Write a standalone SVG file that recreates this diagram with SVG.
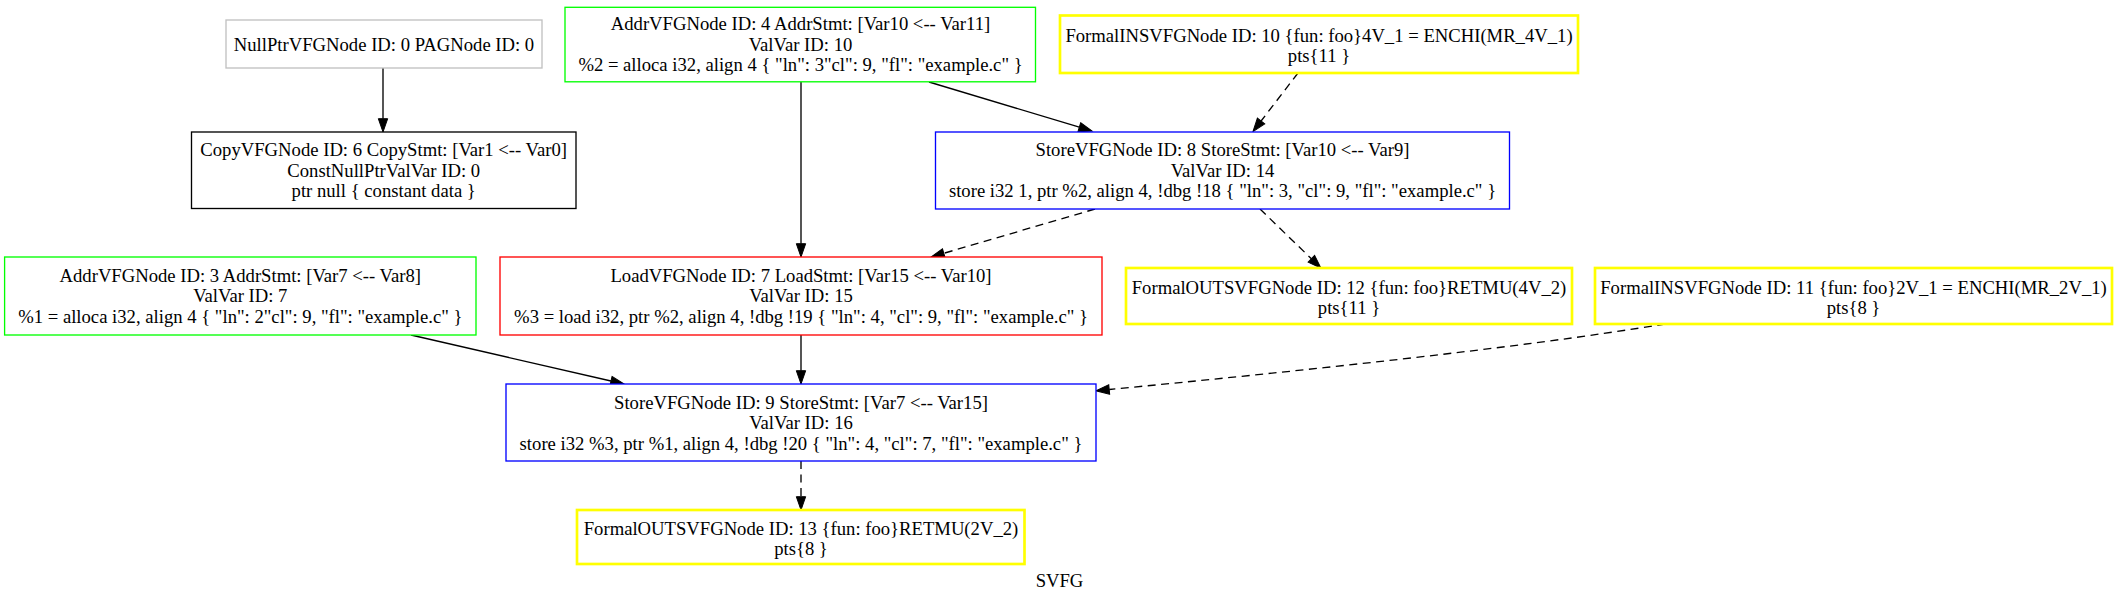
<svg xmlns="http://www.w3.org/2000/svg" width="2118" height="603" viewBox="0 0 2118 603">
<style>
text{font-family:"Liberation Serif","Times New Roman",serif;font-size:18.67px;fill:#000;text-anchor:middle}
rect{fill:#fff}
.gray{stroke:#c0c0c0;stroke-width:1.33}
.black{stroke:#000;stroke-width:1.33}
.green{stroke:#00ff00;stroke-width:1.33}
.red{stroke:#ff0000;stroke-width:1.33}
.blue{stroke:#0000ff;stroke-width:1.33}
.yellow{stroke:#ffff00;stroke-width:2.67}
.e{fill:none;stroke:#000;stroke-width:1.33}
.d{stroke-dasharray:8,5.5}
</style>
<defs>
<marker id="ah" markerUnits="userSpaceOnUse" markerWidth="14" markerHeight="10" refX="0" refY="5" orient="auto" viewBox="0 0 14 10" overflow="visible">
<path d="M0,0.33 L13.33,5 L0,9.67 Z" fill="#000" stroke="#000" stroke-width="1"/>
</marker>
</defs>
<rect width="2118" height="603" fill="#fff"/>
<g id="connectors">
<path class="e" d="M383,68 L383,118.7" marker-end="url(#ah)"/>
<path class="e" d="M801,82 L801,243.7" marker-end="url(#ah)"/>
<path class="e" d="M929,82 L1079.3,127.2" marker-end="url(#ah)"/>
<path class="e d" d="M1298,73 L1261.1,121" marker-end="url(#ah)"/>
<path class="e d" d="M1095,209 L943.8,253.3" marker-end="url(#ah)"/>
<path class="e d" d="M1260,209 L1311.4,258.8" marker-end="url(#ah)"/>
<path class="e" d="M411,335 L611,381" marker-end="url(#ah)"/>
<path class="e" d="M801,335 L801,370.7" marker-end="url(#ah)"/>
<path class="e d" d="M1665,324 C1520,348 1290,372 1109.2,389.5" marker-end="url(#ah)"/>
<path class="e d" d="M801,461 L801,496.7" marker-end="url(#ah)"/>
</g>
<g id="node0">
<rect class="gray" x="226" y="20" width="316" height="48"/>
<text x="384" y="50.5">NullPtrVFGNode ID: 0 PAGNode ID: 0</text>
</g>
<g id="node6">
<rect class="black" x="191.5" y="132" width="384.5" height="76.5"/>
<text x="383.7" y="156">CopyVFGNode ID: 6 CopyStmt: [Var1 &lt;-- Var0]</text>
<text x="383.7" y="176.5">ConstNullPtrValVar ID: 0</text>
<text x="383.7" y="197">ptr null { constant data }</text>
</g>
<g id="node4">
<rect class="green" x="565" y="7.3" width="470.5" height="74.5"/>
<text x="800.5" y="30">AddrVFGNode ID: 4 AddrStmt: [Var10 &lt;-- Var11]</text>
<text x="800.5" y="50.5">ValVar ID: 10</text>
<text x="800.5" y="71">%2 = alloca i32, align 4 { "ln": 3"cl": 9, "fl": "example.c" }</text>
</g>
<g id="node10">
<rect class="yellow" x="1060" y="15.5" width="518" height="57.5"/>
<text x="1319" y="41.5">FormalINSVFGNode ID: 10 {fun: foo}4V_1 = ENCHI(MR_4V_1)</text>
<text x="1319" y="62">pts{11 }</text>
</g>
<g id="node8">
<rect class="blue" x="935.5" y="132" width="574" height="77"/>
<text x="1222.5" y="156">StoreVFGNode ID: 8 StoreStmt: [Var10 &lt;-- Var9]</text>
<text x="1222.5" y="176.5">ValVar ID: 14</text>
<text x="1222.5" y="197">store i32 1, ptr %2, align 4, !dbg !18 { "ln": 3, "cl": 9, "fl": "example.c" }</text>
</g>
<g id="node3">
<rect class="green" x="4.6" y="257" width="471.4" height="78"/>
<text x="240.3" y="281.5">AddrVFGNode ID: 3 AddrStmt: [Var7 &lt;-- Var8]</text>
<text x="240.3" y="302">ValVar ID: 7</text>
<text x="240.3" y="322.5">%1 = alloca i32, align 4 { "ln": 2"cl": 9, "fl": "example.c" }</text>
</g>
<g id="node7">
<rect class="red" x="500" y="257" width="602" height="78"/>
<text x="801" y="281.5">LoadVFGNode ID: 7 LoadStmt: [Var15 &lt;-- Var10]</text>
<text x="801" y="302">ValVar ID: 15</text>
<text x="801" y="322.5">%3 = load i32, ptr %2, align 4, !dbg !19 { "ln": 4, "cl": 9, "fl": "example.c" }</text>
</g>
<g id="node12">
<rect class="yellow" x="1126" y="268" width="446" height="56"/>
<text x="1349" y="293.5">FormalOUTSVFGNode ID: 12 {fun: foo}RETMU(4V_2)</text>
<text x="1349" y="314">pts{11 }</text>
</g>
<g id="node11">
<rect class="yellow" x="1595" y="268" width="517" height="56"/>
<text x="1853.5" y="293.5">FormalINSVFGNode ID: 11 {fun: foo}2V_1 = ENCHI(MR_2V_1)</text>
<text x="1853.5" y="314">pts{8 }</text>
</g>
<g id="node9">
<rect class="blue" x="506" y="384" width="590" height="77"/>
<text x="801" y="408.5">StoreVFGNode ID: 9 StoreStmt: [Var7 &lt;-- Var15]</text>
<text x="801" y="429">ValVar ID: 16</text>
<text x="801" y="449.5">store i32 %3, ptr %1, align 4, !dbg !20 { "ln": 4, "cl": 7, "fl": "example.c" }</text>
</g>
<g id="node13">
<rect class="yellow" x="577" y="510" width="447.5" height="54"/>
<text x="801" y="534.5">FormalOUTSVFGNode ID: 13 {fun: foo}RETMU(2V_2)</text>
<text x="801" y="555">pts{8 }</text>
</g>
<g id="label">
<text x="1059.5" y="586.7">SVFG</text>
</g>
</svg>
